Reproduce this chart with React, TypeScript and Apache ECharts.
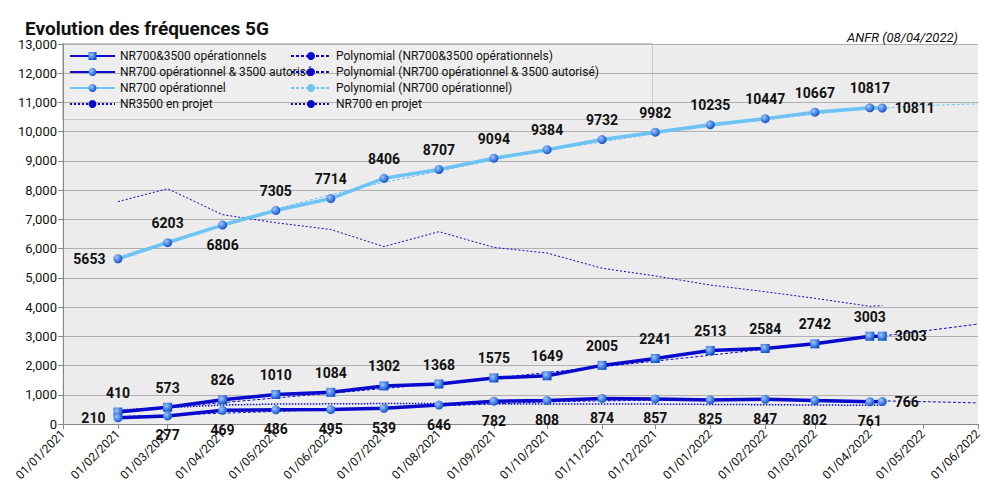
import React, { useEffect, useRef } from "react";
import * as echarts from "echarts";

const dates = [
  [2021, 1, 1], [2021, 2, 1], [2021, 3, 1], [2021, 4, 1], [2021, 5, 1], [2021, 6, 1], [2021, 7, 1], [2021, 8, 1],
  [2021, 9, 1], [2021, 10, 1], [2021, 11, 1], [2022, 0, 1], [2022, 1, 1], [2022, 2, 1], [2022, 3, 1], [2022, 3, 8],
];
const tickDates = [
  [2021, 0, 1], [2021, 1, 1], [2021, 2, 1], [2021, 3, 1], [2021, 4, 1], [2021, 5, 1], [2021, 6, 1], [2021, 7, 1], [2021, 8, 1],
  [2021, 9, 1], [2021, 10, 1], [2021, 11, 1], [2022, 0, 1], [2022, 1, 1], [2022, 2, 1], [2022, 3, 1], [2022, 4, 1], [2022, 5, 1],
];
const op3500 = [410, 573, 826, 1010, 1084, 1302, 1368, 1575, 1649, 2005, 2241, 2513, 2584, 2742, 3003, 3003];
const opAut = [210, 277, 469, 486, 495, 539, 646, 782, 808, 874, 857, 825, 847, 802, 761, 766];
const op700 = [5653, 6203, 6806, 7305, 7714, 8406, 8707, 9094, 9384, 9732, 9982, 10235, 10447, 10667, 10817, 10811];
const proj700 = [7607, 8049, 7161, 6885, 6655, 6069, 6580, 6041, 5849, 5327, 5065, 4754, 4526, 4300, 4027, 4054];
const proj3500 = [480, 560, 650, 680, 690, 700, 700, 690, 680, 680, 680, 670, 660, 650, 640, 640];
const trendDates = [[2021, 1, 1], [2021, 4, 1], [2021, 7, 1], [2021, 10, 1], [2022, 1, 1], [2022, 3, 8], [2022, 5, 1]];
const trend3500 = [420, 890, 1390, 1960, 2560, 3010, 3420];
const trendAut = [250, 430, 620, 790, 830, 790, 720];
const trend700 = [5700, 7350, 8650, 9650, 10400, 10800, 10950];

const ts = (d: number[]) => new Date(d[0], d[1], d[2]).getTime();
const pad = (n: number) => (n < 10 ? "0" + n : "" + n);
const fmt = (v: number) => {
  const d = new Date(v);
  return pad(d.getDate()) + "/" + pad(d.getMonth() + 1) + "/" + d.getFullYear();
};

const DARK = "#0a0acd";
const LIGHT = "#6ec3f5";

export default function App() {
  const ref = useRef<HTMLDivElement>(null);
  useEffect(() => {
    const chart = echarts.init(ref.current!, null, { renderer: "svg" });
    const pts = (arr: number[]) => arr.map((v, i) => [ts(dates[i]), v]);
    const tpts = (arr: number[]) => arr.map((v, i) => [ts(trendDates[i]), v]);
    const big = { show: true, fontSize: 14, fontWeight: "bold", color: "#111", fontFamily: "Roboto" };
    const posData = (arr: number[], def: string, first?: string) =>
      arr.map((v, i) => ({
        value: [ts(dates[i]), v],
        label: { position: i === arr.length - 1 ? "right" : i === 0 && first ? first : def },
      }));
    const marker = (sym: string) => ({
      symbol: sym,
      symbolSize: 9,
      itemStyle: {
        color: new echarts.graphic.RadialGradient(0.35, 0.35, 0.7, [
          { offset: 0, color: "#9cc8ff" },
          { offset: 1, color: "#0b4fc8" },
        ]),
      },
    });
    const tvals = tickDates.map(ts);
    chart.setOption({
      animation: false,
      textStyle: { fontFamily: "Roboto" },
      title: [
        { text: "Evolution des fréquences 5G", left: 12, top: 6, textStyle: { fontSize: 19, fontWeight: "bold", color: "#111", fontFamily: "Roboto" } },
        { text: "ANFR (08/04/2022)", right: 32, top: 18, textStyle: { fontSize: 13, fontStyle: "italic", fontWeight: "normal", color: "#111" } },
      ],
      grid: { left: 55, right: 17, top: 36, bottom: 67, show: true, backgroundColor: "#ececec", borderWidth: 0 },
      xAxis: {
        type: "value",
        min: tvals[0],
        max: tvals[tvals.length - 1],
        axisLabel: { customValues: tvals, formatter: (v: number) => fmt(v), rotate: 45, fontSize: 12, color: "#111" },
        axisTick: { customValues: tvals, show: true, length: 5 },
        axisLine: { lineStyle: { color: "#888" } },
        splitLine: { show: false },
      },
      yAxis: {
        type: "value",
        min: 0,
        max: 13000,
        interval: 1000,
        axisLabel: { fontSize: 13, color: "#111", margin: 6 },
        axisLine: { show: true, lineStyle: { color: "#888" } },
        splitLine: { lineStyle: { color: "#b0b0b0" } },
      },
      legend: [
        {
          orient: "vertical", left: 56, top: 37, itemGap: 4, itemWidth: 45, itemHeight: 10,
          textStyle: { fontSize: 12, color: "#111" },
          data: ["NR700&3500 opérationnels", "NR700 opérationnel & 3500 autorisé", "NR700 opérationnel", "NR3500 en projet"],
        },
        {
          orient: "vertical", left: 277, top: 37, itemGap: 4, itemWidth: 40, itemHeight: 10,
          textStyle: { fontSize: 12, color: "#111" },
          data: ["Polynomial (NR700&3500 opérationnels)", "Polynomial (NR700 opérationnel & 3500 autorisé)", "Polynomial (NR700 opérationnel)", "NR700 en projet"],
        },
      ],
      graphic: [
        { type: "rect", left: 54, top: 35, shape: { width: 590, height: 76 }, style: { fill: "#eeeeee", stroke: "#c8c8c8" }, z: 0, silent: true },
        ...Array.from({ length: 300 }, (_, i) => ({
          type: "line", shape: { x1: 55 + i * 3.05, y1: 36, x2: 55 + i * 3.05, y2: 416 },
          style: { stroke: "#d6d6d6", lineWidth: 1 }, z: -1, silent: true,
        })),
      ],
      series: [
        {
          name: "Polynomial (NR700&3500 opérationnels)", type: "line", smooth: true, data: tpts(trend3500), symbol: "none",
          lineStyle: { color: DARK, width: 1, type: [3, 2] }, itemStyle: { color: DARK }, z: 1,
        },
        {
          name: "Polynomial (NR700 opérationnel & 3500 autorisé)", type: "line", smooth: true, data: tpts(trendAut), symbol: "none",
          lineStyle: { color: DARK, width: 1, type: [3, 2] }, itemStyle: { color: DARK }, z: 1,
        },
        {
          name: "Polynomial (NR700 opérationnel)", type: "line", smooth: true, data: tpts(trend700), symbol: "none",
          lineStyle: { color: LIGHT, width: 1, type: [3, 2] }, itemStyle: { color: LIGHT }, z: 1,
        },
        {
          name: "NR3500 en projet", type: "line", data: pts(proj3500), symbol: "none",
          lineStyle: { color: DARK, width: 1.5, type: "dotted" }, itemStyle: { color: DARK }, z: 1,
        },
        {
          name: "NR700 en projet", type: "line", data: pts(proj700), symbol: "none",
          lineStyle: { color: DARK, width: 1, type: [2, 2] }, itemStyle: { color: DARK }, z: 1,
          label: { show: true, position: "top", fontSize: 11, color: "#111", distance: 8 },
        },
        {
          name: "NR700&3500 opérationnels", type: "line", ...marker("rect"),
          lineStyle: { color: DARK, width: 3.5 }, color: DARK,
          data: posData(op3500, "top"),
          label: { ...big, distance: 8 }, z: 3,
        },
        {
          name: "NR700 opérationnel & 3500 autorisé", type: "line", ...marker("circle"),
          lineStyle: { color: DARK, width: 3.5 }, color: DARK,
          data: posData(opAut, "bottom", "left"),
          label: { ...big, distance: 8 }, z: 3,
        },
        {
          name: "NR700 opérationnel", type: "line", ...marker("circle"),
          lineStyle: { color: LIGHT, width: 3.5 }, color: LIGHT,
          data: op700.map((v, i) => ({
            value: [ts(dates[i]), v],
            label: { position: i === 0 ? "left" : i === op700.length - 1 ? "right" : i === 2 ? "bottom" : "top" },
          })),
          label: { ...big, distance: 8 }, z: 3,
        },
      ],
    });
    return () => chart.dispose();
  }, []);
  return <div ref={ref} style={{ width: 987, height: 483 }} />;
}
